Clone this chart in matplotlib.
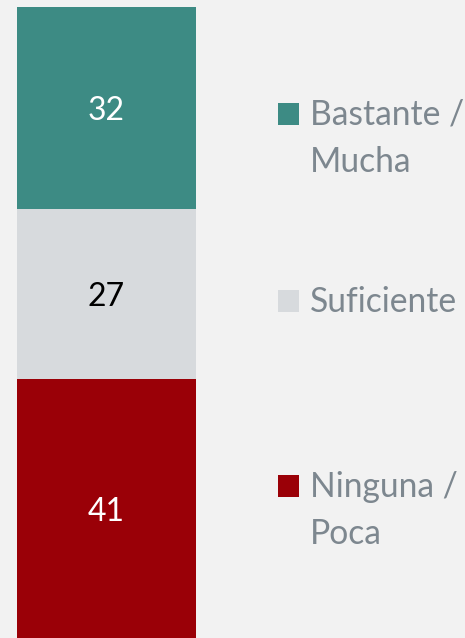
import matplotlib
matplotlib.use("Agg")
import matplotlib.pyplot as plt
from matplotlib.patches import Rectangle

categories = ["Ninguna /\nPoca", "Suficiente", "Bastante /\nMucha"]
values = [41, 27, 32]
colors = ["#9a0007", "#d7dadd", "#3d8b84"]
label_colors = ["white", "black", "white"]

W, H = 465, 638
fig = plt.figure(figsize=(W / 100, H / 100), dpi=100)
fig.patch.set_facecolor("#f2f2f2")
plt.rcParams['font.family'] = ['Lato', 'DejaVu Sans']

ax = fig.add_axes([17 / W, 0, 179 / W, 631 / H])
ax.set_facecolor("#f2f2f2")
bottom = 0
for v, c, lc in zip(values, colors, label_colors):
    ax.bar(0, v, bottom=bottom, width=1, color=c, edgecolor="none")
    ax.annotate(str(v), (0, bottom + v / 2), xytext=(0, -12 * 0.72),
                textcoords="offset points", ha="center", va="baseline",
                color=lc, fontsize=23)
    bottom += v
ax.set_xlim(-0.5, 0.5)
ax.set_ylim(0, 100)
ax.axis("off")

# legend (figure pixel coords, top-down): baseline of first line
legend_base = [497, 312, 125]
line_gap = 46.5
text_color = "#7d878f"
for cat, c, yb in zip(categories, colors, legend_base):
    fig.patches.append(Rectangle((278 / W, 1 - yb / H), 21 / W, 22 / H,
                                 transform=fig.transFigure, facecolor=c,
                                 edgecolor="none"))
    for i, line in enumerate(cat.split("\n")):
        fig.text(310 / W, 1 - (yb + i * line_gap) / H, line, ha="left",
                 va="baseline", color=text_color, fontsize=24.2)

fig.savefig("out.png", dpi=100, facecolor=fig.get_facecolor())
